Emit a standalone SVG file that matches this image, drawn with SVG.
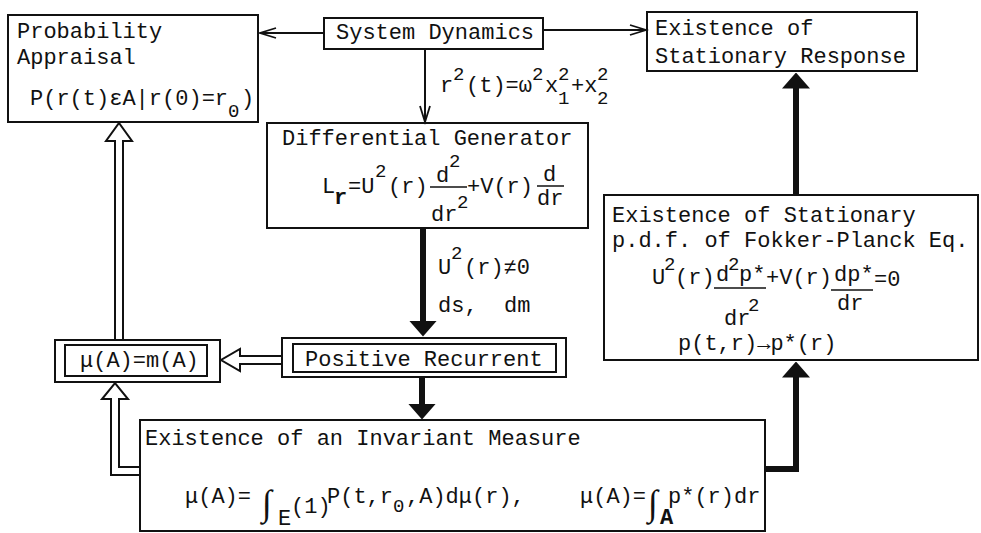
<svg xmlns="http://www.w3.org/2000/svg" width="981" height="533" viewBox="0 0 981 533">
<style>
.t{font-family:"Liberation Mono","DejaVu Sans Mono",monospace;font-size:22px;fill:#111}
.b{font-weight:bold}
.sup{font-size:19px}
.int{font-family:"Liberation Serif","DejaVu Serif",serif;font-size:36px}
.box{fill:none;stroke:#111;stroke-width:2}
.thin{fill:none;stroke:#111;stroke-width:2}
.thick{fill:none;stroke:#111;stroke-width:6}
.hollow{fill:#fff;stroke:#111;stroke-width:2;stroke-linejoin:miter}
.fl{stroke:#111;stroke-width:1.5}
</style>
<defs>
<marker id="open" viewBox="0 0 16 10" refX="16" refY="5" markerWidth="16" markerHeight="10" markerUnits="userSpaceOnUse" orient="auto" overflow="visible">
<path d="M0,0 L16,5 L0,10" fill="none" stroke="#111" stroke-width="1.8"/>
</marker>
<marker id="solid" viewBox="0 0 16 28" refX="0.5" refY="14" markerWidth="16" markerHeight="28" markerUnits="userSpaceOnUse" orient="auto">
<path d="M0,0 L16,14 L0,28 Z" fill="#111"/>
</marker>
</defs>
<rect width="981" height="533" fill="#fff"/>

<g id="connectors">
<line class="thin" x1="324" y1="33" x2="260" y2="33" marker-end="url(#open)"/>
<line class="thin" x1="543" y1="30" x2="646" y2="30" marker-end="url(#open)"/>
<line class="thin" x1="425" y1="49" x2="425" y2="122" marker-end="url(#open)"/>
<line class="thick" x1="423" y1="228" x2="423" y2="321" marker-end="url(#solid)"/>
<line class="thick" x1="422" y1="377" x2="422" y2="404" marker-end="url(#solid)"/>
<line class="thick" x1="796" y1="195" x2="796" y2="88" marker-end="url(#solid)"/>
<polyline class="thick" points="765,469 796,469 796,377" marker-end="url(#solid)"/>
<path class="hollow" d="M282,356 L240,356 L240,349 L221,360 L240,371 L240,364 L282,364"/>
<path class="hollow" d="M115,340 L115,141 L106,141 L119,123 L132,141 L123,141 L123,340"/>
<path class="hollow" d="M140,467 L119,467 L119,399 L128,399 L115,383 L102,399 L111,399 L111,475 L140,475"/>
<text class="t"><tspan x="440" y="92">r</tspan><tspan x="453" y="80" class="sup">2</tspan><tspan x="466" y="92">(t)=ω</tspan><tspan x="532" y="80" class="sup">2</tspan><tspan x="545" y="92">x</tspan><tspan x="558" y="80" class="sup">2</tspan><tspan x="558" y="104" class="sup">1</tspan><tspan x="571" y="92">+x</tspan><tspan x="597" y="80" class="sup">2</tspan><tspan x="597" y="104" class="sup">2</tspan></text>
<text class="t"><tspan x="438" y="274">U</tspan><tspan x="451" y="259" class="sup">2</tspan><tspan x="464" y="274">(r)≠0</tspan></text>
<text class="t"><tspan x="438" y="312">ds,</tspan><tspan x="504" y="312">dm</tspan></text>
</g>

<g id="probability-appraisal">
<rect class="box" x="8" y="15" width="250" height="107"/>
<text class="t" x="17" y="38">Probability</text>
<text class="t" x="17" y="64">Appraisal</text>
<text class="t"><tspan x="30" y="105">P(r(t)εA|r(0)=r</tspan><tspan x="228" y="117" class="sup">0</tspan><tspan x="241" y="105">)</tspan></text>
</g>

<g id="system-dynamics">
<rect class="box" x="324" y="18" width="219" height="31"/>
<text class="t" x="336" y="39">System Dynamics</text>
</g>

<g id="stationary-response">
<rect class="box" x="647" y="12" width="270" height="59"/>
<text class="t" x="655" y="35">Existence of</text>
<text class="t" x="655" y="63">Stationary Response</text>
</g>

<g id="differential-generator">
<rect class="box" x="267" y="123" width="321" height="105"/>
<text class="t" x="282" y="145">Differential Generator</text>
<text class="t"><tspan x="322" y="193">L</tspan><tspan x="334" y="204" class="b">r</tspan><tspan x="348" y="193">=U</tspan><tspan x="375" y="177" class="sup">2</tspan><tspan x="388" y="193">(r)</tspan><tspan x="436" y="182">d</tspan><tspan x="449" y="167" class="sup">2</tspan><tspan x="431" y="221">dr</tspan><tspan x="457" y="208" class="sup">2</tspan><tspan x="467" y="193">+V(r)</tspan><tspan x="543" y="181">d</tspan><tspan x="537" y="205">dr</tspan></text>
<line class="fl" x1="430" y1="187" x2="467" y2="187"/>
<line class="fl" x1="537" y1="186" x2="564" y2="186"/>
</g>

<g id="positive-recurrent">
<rect class="box" x="282" y="338" width="284" height="39"/>
<rect class="box" x="293" y="344" width="263" height="28"/>
<text class="t" x="305" y="366">Positive Recurrent</text>
</g>

<g id="mu-equals-m">
<rect class="box" x="55" y="340" width="165" height="42"/>
<rect class="box" x="65" y="345" width="142" height="31"/>
<text class="t" x="80" y="367">μ(A)=m(A)</text>
</g>

<g id="invariant-measure">
<rect class="box" x="140" y="420" width="625" height="111"/>
<text class="t" x="145" y="445">Existence of an Invariant Measure</text>
<text class="t"><tspan x="185" y="503">μ(A)=</tspan><tspan x="262" y="515" class="int">∫</tspan><tspan x="278" y="525">E</tspan><tspan x="291" y="513">(1)</tspan><tspan x="327" y="503">P(t,r</tspan><tspan x="393" y="512" class="sup">0</tspan><tspan x="406" y="503">,A)dμ(r),</tspan><tspan x="580" y="503">μ(A)=</tspan><tspan x="648" y="515" class="int">∫</tspan><tspan x="668" y="503">p*(r)dr</tspan><tspan x="660" y="524" class="b">A</tspan></text>
</g>

<g id="stationary-pdf">
<rect class="box" x="604" y="195" width="374" height="165"/>
<text class="t" x="612" y="222">Existence of Stationary</text>
<text class="t" x="612" y="247">p.d.f. of Fokker-Planck Eq.</text>
<text class="t"><tspan x="652" y="284">U</tspan><tspan x="664" y="270" class="sup">2</tspan><tspan x="675" y="284">(r)</tspan><tspan x="716" y="281">d</tspan><tspan x="728" y="270" class="sup">2</tspan><tspan x="739" y="281">p*</tspan><tspan x="724" y="325">dr</tspan><tspan x="748" y="311" class="sup">2</tspan><tspan x="766" y="284">+V(r)</tspan><tspan x="834" y="281">dp*</tspan><tspan x="837" y="310">dr</tspan><tspan x="874" y="286">=0</tspan></text>
<line class="fl" x1="714" y1="288" x2="766" y2="288"/>
<line class="fl" x1="831" y1="290" x2="873" y2="290"/>
<text class="t" x="678" y="350">p(t,r)→p*(r)</text>
</g>
</svg>
